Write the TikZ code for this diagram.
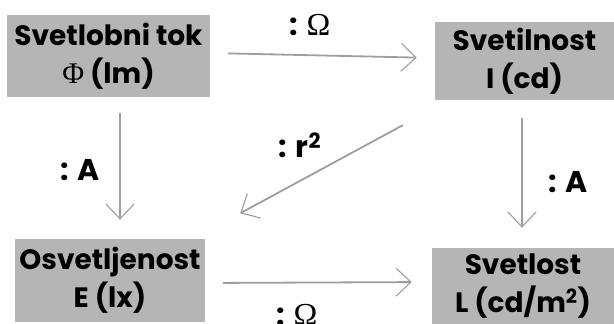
\documentclass[tikz,border=0pt]{standalone}
\usepackage{fontspec}
\setmainfont{Poppins}
\newfontfamily\grk{Liberation Serif}
\usetikzlibrary{arrows.meta}
\begin{document}
\begin{tikzpicture}[x=1pt,y=1pt,
  box/.style={fill=black!29, inner sep=0pt, align=center,
    font=\fontsize{28}{38}\selectfont\bfseries, text=black},
  arr/.style={draw=black!38, line width=1.8pt,
    -{Straight Barb[length=15pt,width=28pt,line width=1.1pt]}},
  lab/.style={font=\fontsize{30}{34}\selectfont\bfseries, inner sep=0pt}]
\useasboundingbox (0,0) rectangle (614,324);
\node[box, minimum width=203pt, minimum height=82pt] (b1) at (108.5,268) {Svetlobni tok\\{\grk\mdseries\fontsize{30}{38}\selectfont Φ} (lm)};
\node[box, minimum width=179pt, minimum height=78pt] (b2) at (524.5,263) {Svetilnost\\I (cd)};
\node[box, minimum width=190pt, minimum height=83pt] (b3) at (110,43.5) {Osvetljenost\\E (lx)};
\node[box, minimum width=182pt, minimum height=76pt] (b4) at (523,38) {Svetlost\\L (cd/m\textsuperscript{2})};
% connectors
\draw[arr, shorten <=18pt, shorten >=18pt] ([yshift=3pt]b1.east) -- ([yshift=3pt]b2.west);
\draw[arr, shorten <=16pt, shorten >=19pt] ([xshift=11.5pt]b1.south) -- ([xshift=10pt]b3.north);
\draw[arr, shorten <=18pt, shorten >=20pt] ([xshift=-2.5pt]b2.south) -- ([xshift=-1pt]b4.north);
\draw[arr] ([shift={(-32pt,-25pt)}]b2.south west) -- ([shift={(35pt,25.5pt)}]b3.north east);
\draw[arr, shorten <=18pt, shorten >=20pt] ([yshift=-2.5pt]b3.east) -- ([yshift=4pt]b4.west);
% labels
\node[lab] (l1) at (310,299) {: {\grk\mdseries\fontsize{32}{34}\selectfont Ω}};
\node[lab] (l2) at (300,179) {: r\textsuperscript{2}};
\node[lab] (l3) at (80,154) {: A};
\node[lab] (l4) at (568,142) {: A};
\node[lab] (l5) at (297,9) {: {\grk\mdseries\fontsize{32}{34}\selectfont Ω}};
\end{tikzpicture}
\end{document}
